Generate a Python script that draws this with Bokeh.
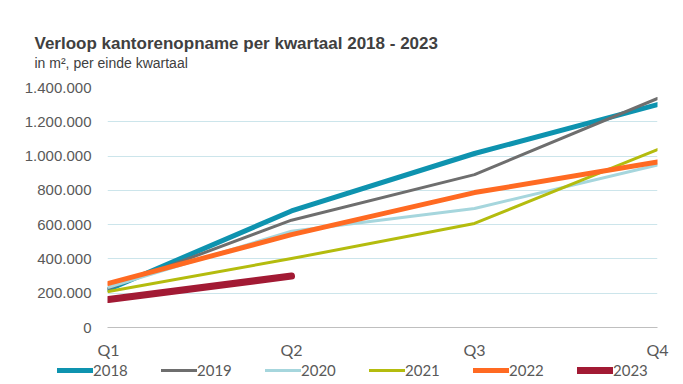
from bokeh.plotting import figure
from bokeh.models import Range1d, FixedTicker, Legend, LegendItem, Title
from bokeh.embed import file_html
from bokeh.resources import INLINE

quarters = ["Q1", "Q2", "Q3", "Q4"]
q_pos = [0, 1, 2, 3]

y2018 = [222000, 680000, 1015000, 1300000]
y2019 = [228000, 626000, 892000, 1336000]
y2020 = [235000, 562000, 694000, 948000]
y2021 = [210000, 402000, 607000, 1038000]
y2022 = [257000, 542000, 787000, 965000]
y2023 = [163000, 300000]

y_ticks = [0, 200000, 400000, 600000, 800000, 1000000, 1200000, 1400000]
y_tick_labels = ["0", "200.000", "400.000", "600.000", "800.000", "1.000.000", "1.200.000", "1.400.000"]

series = [
    ("2018", y2018, "#0E93AF", 5),
    ("2019", y2019, "#6E6E6E", 3),
    ("2020", y2020, "#A6D6DD", 3),
    ("2021", y2021, "#B4BC0E", 3),
    ("2022", y2022, "#FF6A22", 5),
    ("2023", y2023, "#A21A34", 7),
]

W = 675
H_MAIN = 361
H_LEG = 18
frame_left, frame_right, frame_top, frame_bottom = 107, 657, 87, 327

p = figure(width=W, height=H_MAIN, output_backend="svg", toolbar_location=None,
           x_range=Range1d(-1 / 183, 3), y_range=Range1d(0, 1400000),
           min_border_left=frame_left, min_border_right=W - frame_right,
           min_border_top=frame_top, min_border_bottom=H_MAIN - frame_bottom)
p.outline_line_color = None
p.background_fill_color = "white"

# axes
p.xaxis.ticker = FixedTicker(ticks=q_pos)
p.xaxis.major_label_overrides = {i: q for i, q in zip(q_pos, quarters)}
p.xaxis.major_tick_line_color = None
p.xaxis.minor_tick_line_color = None
p.xaxis.axis_line_color = "#BFBFBF"
p.xaxis.axis_line_width = 1
p.xaxis.major_label_standoff = 6
p.xaxis.major_label_text_font = "Lato"
p.xaxis.major_label_text_font_size = "16px"
p.xaxis.major_label_text_color = "#595959"

p.yaxis.ticker = FixedTicker(ticks=y_ticks)
p.yaxis.major_label_overrides = {t: l for t, l in zip(y_ticks, y_tick_labels)}
p.yaxis.major_tick_line_color = None
p.yaxis.minor_tick_line_color = None
p.yaxis.axis_line_color = None
p.yaxis.major_label_standoff = 10
p.yaxis.major_label_text_font = "Liberation Sans"
p.yaxis.major_label_text_font_size = "15px"
p.yaxis.major_label_text_color = "#595959"

p.xgrid.grid_line_color = None
p.ygrid.ticker = FixedTicker(ticks=y_ticks[1:])
p.ygrid.grid_line_color = "#CCE5EB"
p.ygrid.grid_line_width = 1

for name, vals, color, lw in series:
    p.line(q_pos[:len(vals)], vals, line_color=color, line_width=lw,
           line_cap="round", line_join="round")

# spacer between subtitle and plot area
spacer = Title(text=" ", align="left", text_font="Liberation Sans",
               text_font_size="10px", standoff=4)
subtitle = Title(text="in m\u00b2, per einde kwartaal", align="left", offset=-73,
                 text_font="Liberation Sans", text_font_size="14px",
                 text_font_style="normal", text_color="#404040", standoff=0)
title = Title(text="Verloop kantorenopname per kwartaal 2018 - 2023", align="left", offset=-73,
              text_font="Liberation Sans", text_font_style="bold",
              text_font_size="17px", text_color="#404040", standoff=0)
p.add_layout(spacer, "above")
p.add_layout(subtitle, "above")
p.add_layout(title, "above")

# legend strip (key for the series above)
leg = figure(width=W, height=H_LEG, output_backend="svg", toolbar_location=None,
             x_range=Range1d(0, 3), y_range=Range1d(0, 1400000),
             x_axis_location=None, y_axis_location=None,
             min_border_left=0, min_border_right=0, min_border_top=0, min_border_bottom=0)
leg.outline_line_color = None
leg.xgrid.visible = False
leg.ygrid.visible = False

items = []
for name, vals, color, lw in series:
    r = leg.line(q_pos[:len(vals)], vals, line_color=color, line_width=lw,
                 line_cap="round", line_join="round", visible=False)
    items.append(LegendItem(label=name, renderers=[r]))

legend = Legend(items=items, orientation="horizontal", location=(57, 0),
                glyph_width=36, glyph_height=18, label_height=18,
                label_standoff=0, label_width=68, spacing=0, padding=0, margin=0,
                border_line_color=None, background_fill_alpha=0,
                inactive_fill_alpha=0,
                label_text_font="Lato", label_text_font_size="15px",
                label_text_color="#595959", label_text_baseline="middle")
leg.add_layout(legend, "center")

open("out.html", "w").write(file_html([p, leg], INLINE))
